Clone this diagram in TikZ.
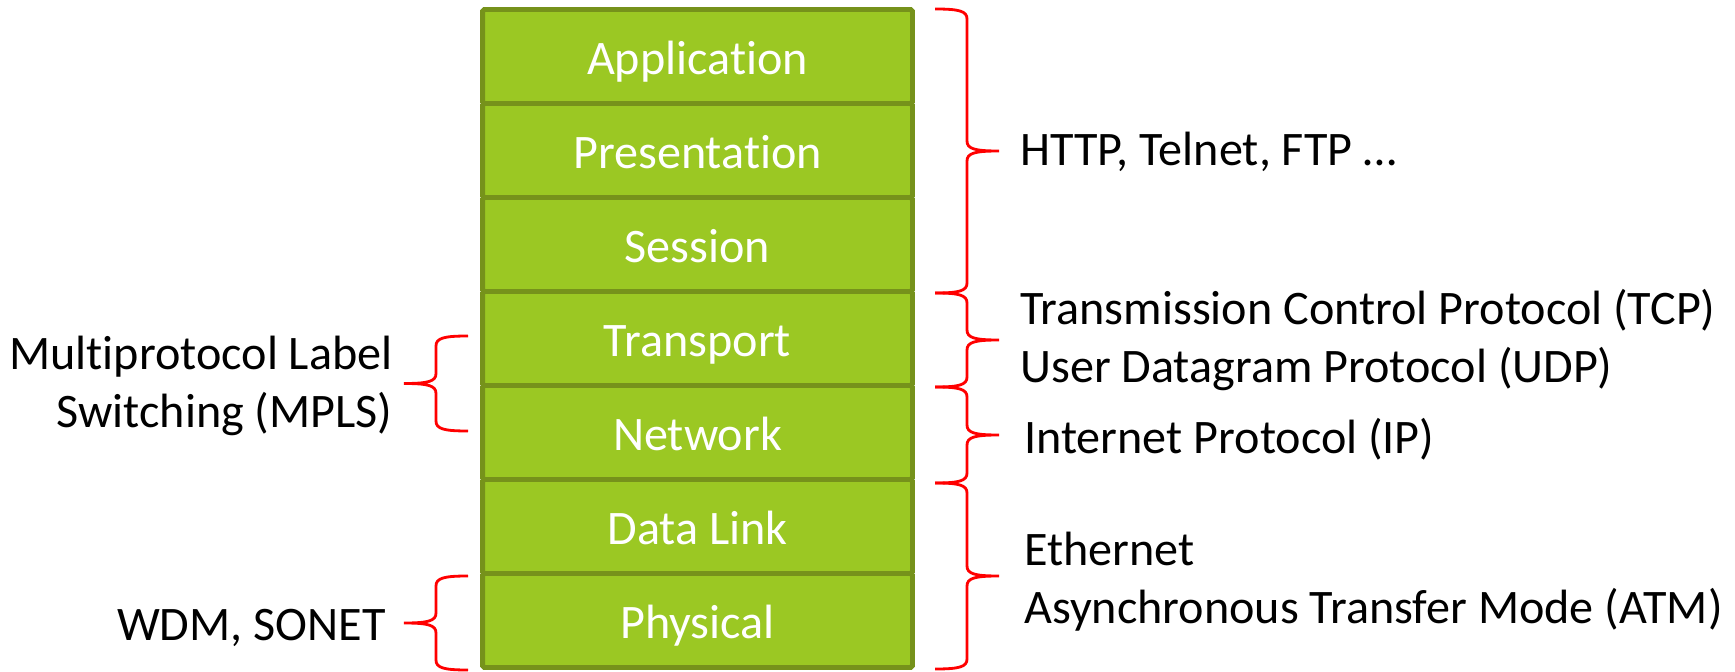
\documentclass[tikz,border=0pt]{standalone}
\usepackage{fontspec}
\setmainfont[Ligatures={NoCommon,NoRare}, Contextuals=NoAlternate]{Carlito}
\definecolor{layerfill}{RGB}{155,200,35}
\definecolor{layerdraw}{RGB}{118,146,27}
\tikzset{
  layer_n/.style = {rectangle, draw=layerdraw, fill=layerfill, line width=2.8pt, rounded corners=1pt,
    minimum width=8.6cm, minimum height=1.88cm, inner sep=0pt, text height=21pt, text depth=0pt,
    text=white, font=\fontsize{27.4}{33}\selectfont},
  label_t/.style = {align=left, inner sep=0pt, text=black, font=\fontsize{27.4}{33}\selectfont},
  label_l/.style = {label_t, align=right, anchor=east},
  brace_r/.style = {draw=red, line width=1.6pt}
}
% brace opening to the left, tip to the right: x, top, bottom
\newcommand{\bracer}[3]{%
  \pgfmathsetmacro{\ymid}{(#2+#3)/2}
  \draw[brace_r] (#1,#2) .. controls (#1+24,#2) and (#1+32,#2+2) .. (#1+32,#2+10)
    -- (#1+32,\ymid-10) .. controls (#1+32,\ymid-2) and (#1+40,\ymid) .. (#1+64,\ymid)
    .. controls (#1+40,\ymid) and (#1+32,\ymid+2) .. (#1+32,\ymid+10)
    -- (#1+32,#3-10) .. controls (#1+32,#3-2) and (#1+24,#3) .. (#1,#3);}
% brace opening to the right, tip to the left
\newcommand{\bracel}[3]{%
  \pgfmathsetmacro{\ymid}{(#2+#3)/2}
  \draw[brace_r] (#1,#2) .. controls (#1-24,#2) and (#1-32,#2+2) .. (#1-32,#2+10)
    -- (#1-32,\ymid-10) .. controls (#1-32,\ymid-2) and (#1-40,\ymid) .. (#1-64,\ymid)
    .. controls (#1-40,\ymid) and (#1-32,\ymid+2) .. (#1-32,\ymid+10)
    -- (#1-32,#3-10) .. controls (#1-32,#3-2) and (#1-24,#3) .. (#1,#3);}

\begin{document}
\begin{tikzpicture}[x=0.02cm, y=-0.02cm]
\useasboundingbox (0,0) rectangle (1735,672);

% the seven layers
\foreach \n/\t [count=\i] in {app/Application, pre/Presentat\kern0pt ion, ses/Session, tra/Transport,
    net/Network, dat/Data Link, phy/Physical}
  \node [layer_n] (\n) at (697.5,{56.5+94*(\i-1)}) {\t};

% right side
\bracer{935}{9}{293}
\bracer{935}{293}{387}
\bracer{935}{387}{483}
\bracer{935}{483}{669}
\node [label_t, anchor=west] (http) at (1020,152) {HTTP, Telnet, FTP …};
\node [label_t, anchor=west] (tcp) at (1020,340) {Transmission Control Protocol (TCP)\\User Datagram Protocol (UDP)};
\node [label_t, anchor=west] (ip) at (1024,439) {Internet Protocol (IP)};
\node [label_t, anchor=west] (eth) at (1024,582) {Ethernet\\Asynchronous Transfer Mode (ATM)};

% left side
\bracel{468}{336}{431}
\bracel{468}{576}{670}
\node [label_l] (mpls) at (393,386) {Mult\kern0pt iprotocol Label\\Switching (MPLS)};
\node [label_l] (wdm) at (386,628) {WDM, SONET};
\end{tikzpicture}
\end{document}
